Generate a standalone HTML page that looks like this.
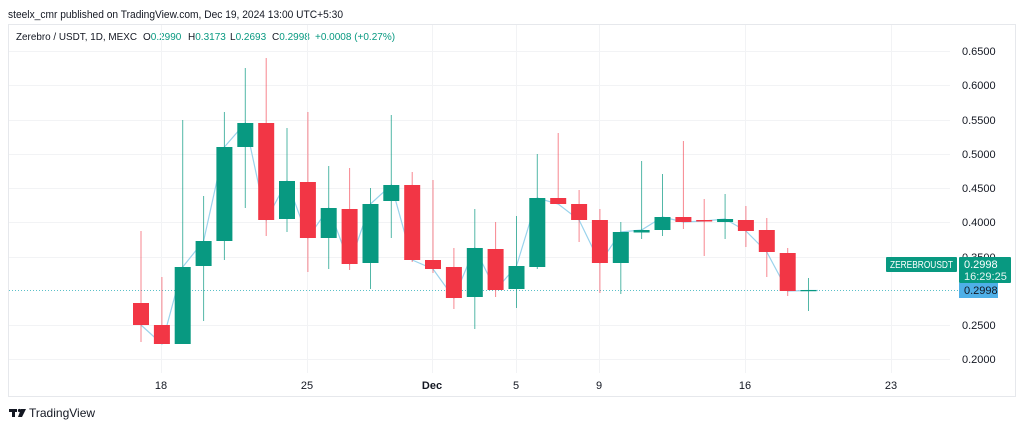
<!DOCTYPE html>
<html><head><meta charset="utf-8"><style>
html,body{margin:0;padding:0;background:#fff;}
body{width:1024px;height:428px;overflow:hidden;font-family:"Liberation Sans",sans-serif;}
</style></head><body>
<svg width="1024" height="428" viewBox="0 0 1024 428" xmlns="http://www.w3.org/2000/svg" font-family="Liberation Sans, sans-serif">
<rect x="0" y="0" width="1024" height="428" fill="#fff"/>
<text x="8" y="18" font-size="11" fill="#131722" textLength="335" lengthAdjust="spacingAndGlyphs">steelx_cmr published on TradingView.com, Dec 19, 2024 13:00 UTC+5:30</text>
<rect x="8.5" y="24.5" width="1007" height="372" fill="none" stroke="#e6e8ec"/>
<g font-size="10" fill="#131722">
<text x="16" y="40" textLength="121" lengthAdjust="spacingAndGlyphs">Zerebro / USDT, 1D, MEXC</text>
<text x="143" y="40">O<tspan fill="#089981">0.2990</tspan></text>
<text x="188" y="40">H<tspan fill="#089981">0.3173</tspan></text>
<text x="230" y="40">L<tspan fill="#089981">0.2693</tspan></text>
<text x="272" y="40">C<tspan fill="#089981">0.2998</tspan></text>
<text x="315" y="40" fill="#089981">+0.0008 (+0.27%)</text>
</g>
<g stroke="#f2f3f5" stroke-width="1">
<line x1="9" x2="950" y1="51.5" y2="51.5"/><line x1="9" x2="950" y1="85.5" y2="85.5"/><line x1="9" x2="950" y1="120.5" y2="120.5"/><line x1="9" x2="950" y1="154.5" y2="154.5"/><line x1="9" x2="950" y1="188.5" y2="188.5"/><line x1="9" x2="950" y1="222.5" y2="222.5"/><line x1="9" x2="950" y1="257.5" y2="257.5"/><line x1="9" x2="950" y1="325.5" y2="325.5"/><line x1="9" x2="950" y1="359.5" y2="359.5"/>
<line x1="161.5" x2="161.5" y1="25" y2="373"/><line x1="307.5" x2="307.5" y1="25" y2="373"/><line x1="432.5" x2="432.5" y1="25" y2="373"/><line x1="516.5" x2="516.5" y1="25" y2="373"/><line x1="599.5" x2="599.5" y1="25" y2="373"/><line x1="745.5" x2="745.5" y1="25" y2="373"/><line x1="891.5" x2="891.5" y1="25" y2="373"/>
</g>
<g font-size="11" fill="#131722">
<text x="962" y="55">0.6500</text><text x="962" y="89">0.6000</text><text x="962" y="124">0.5500</text><text x="962" y="158">0.5000</text><text x="962" y="192">0.4500</text><text x="962" y="226">0.4000</text><text x="962" y="261">0.3500</text><text x="962" y="329">0.2500</text><text x="962" y="363">0.2000</text>
</g>
<g font-size="11" fill="#131722" text-anchor="middle">
<text x="161" y="389">18</text><text x="307" y="389">25</text><text x="432" y="389" font-weight="bold">Dec</text><text x="516" y="389">5</text><text x="599" y="389">9</text><text x="745" y="389">16</text><text x="891" y="389">23</text>
</g>
<line x1="9" x2="958" y1="290.5" y2="290.5" stroke="#5bc0c8" stroke-dasharray="1,2" stroke-width="1"/>
<polyline fill="none" stroke="#9ad3ec" stroke-width="1.2" points="141,325 161.9,344 182.7,267 203.6,241 224.4,147 245.3,123 266.2,220 287,181 307.9,238 328.7,208 349.6,264 370.5,204 391.3,185 412.2,260 433,269 453.9,298 474.8,248 495.6,290 516.5,266 537.3,198 558.2,204 579.1,220 599.9,263 620.8,232 641.6,230 662.5,217 683.4,222 704.2,221 725.1,219 745.9,231 766.8,252 787.7,291 808.5,290.5 818,290.5"/>
<g fill="#f23645" stroke="#f23645">
<line x1="141" x2="141" y1="231" y2="342" stroke-opacity=".6"/><rect x="133" y="303" width="16" height="22" stroke="none"/>
<line x1="161.9" x2="161.9" y1="277" y2="344" stroke-opacity=".6"/><rect x="153.9" y="325" width="16" height="19" stroke="none"/>
<line x1="266.2" x2="266.2" y1="58" y2="236" stroke-opacity=".6"/><rect x="258.2" y="123" width="16" height="97" stroke="none"/>
<line x1="307.9" x2="307.9" y1="112" y2="272" stroke-opacity=".6"/><rect x="299.9" y="182" width="16" height="56" stroke="none"/>
<line x1="349.6" x2="349.6" y1="168" y2="270" stroke-opacity=".6"/><rect x="341.6" y="209" width="16" height="55" stroke="none"/>
<line x1="412.2" x2="412.2" y1="172" y2="262" stroke-opacity=".6"/><rect x="404.2" y="185" width="16" height="75" stroke="none"/>
<line x1="433" x2="433" y1="180" y2="273" stroke-opacity=".6"/><rect x="425" y="260" width="16" height="9" stroke="none"/>
<line x1="453.9" x2="453.9" y1="248" y2="309" stroke-opacity=".6"/><rect x="445.9" y="267" width="16" height="31" stroke="none"/>
<line x1="495.6" x2="495.6" y1="222" y2="297" stroke-opacity=".6"/><rect x="487.6" y="249" width="16" height="41" stroke="none"/>
<line x1="558.2" x2="558.2" y1="133" y2="204" stroke-opacity=".6"/><rect x="550.2" y="198" width="16" height="6" stroke="none"/>
<line x1="579.1" x2="579.1" y1="190" y2="242" stroke-opacity=".6"/><rect x="571.1" y="204" width="16" height="16" stroke="none"/>
<line x1="599.9" x2="599.9" y1="209" y2="293" stroke-opacity=".6"/><rect x="591.9" y="220" width="16" height="43" stroke="none"/>
<line x1="683.4" x2="683.4" y1="141" y2="229" stroke-opacity=".6"/><rect x="675.4" y="217" width="16" height="5" stroke="none"/>
<line x1="704.2" x2="704.2" y1="199" y2="256" stroke-opacity=".6"/><rect x="696.2" y="220" width="16" height="1.5" stroke="none"/>
<line x1="745.9" x2="745.9" y1="206" y2="247" stroke-opacity=".6"/><rect x="737.9" y="220" width="16" height="11" stroke="none"/>
<line x1="766.8" x2="766.8" y1="218" y2="277" stroke-opacity=".6"/><rect x="758.8" y="230" width="16" height="22" stroke="none"/>
<line x1="787.7" x2="787.7" y1="248" y2="296" stroke-opacity=".6"/><rect x="779.7" y="253" width="16" height="38" stroke="none"/>
</g>
<g fill="#089981" stroke="#089981">
<line x1="182.7" x2="182.7" y1="120" y2="344" stroke-opacity=".7"/><rect x="174.7" y="267" width="16" height="77" stroke="none"/>
<line x1="203.6" x2="203.6" y1="196" y2="321" stroke-opacity=".7"/><rect x="195.6" y="241" width="16" height="25" stroke="none"/>
<line x1="224.4" x2="224.4" y1="112" y2="260" stroke-opacity=".7"/><rect x="216.4" y="147" width="16" height="94" stroke="none"/>
<line x1="245.3" x2="245.3" y1="68" y2="208" stroke-opacity=".7"/><rect x="237.3" y="123" width="16" height="24" stroke="none"/>
<line x1="287" x2="287" y1="128" y2="232" stroke-opacity=".7"/><rect x="279" y="181" width="16" height="38" stroke="none"/>
<line x1="328.7" x2="328.7" y1="166" y2="269" stroke-opacity=".7"/><rect x="320.7" y="208" width="16" height="30" stroke="none"/>
<line x1="370.5" x2="370.5" y1="188" y2="289" stroke-opacity=".7"/><rect x="362.5" y="204" width="16" height="59" stroke="none"/>
<line x1="391.3" x2="391.3" y1="115" y2="238" stroke-opacity=".7"/><rect x="383.3" y="185" width="16" height="16" stroke="none"/>
<line x1="474.8" x2="474.8" y1="209" y2="329" stroke-opacity=".7"/><rect x="466.8" y="248" width="16" height="49" stroke="none"/>
<line x1="516.5" x2="516.5" y1="216" y2="308" stroke-opacity=".7"/><rect x="508.5" y="266" width="16" height="23" stroke="none"/>
<line x1="537.3" x2="537.3" y1="154" y2="269" stroke-opacity=".7"/><rect x="529.3" y="198" width="16" height="69" stroke="none"/>
<line x1="620.8" x2="620.8" y1="222" y2="294" stroke-opacity=".7"/><rect x="612.8" y="232" width="16" height="31" stroke="none"/>
<line x1="641.6" x2="641.6" y1="161" y2="239" stroke-opacity=".7"/><rect x="633.6" y="230" width="16" height="2.5" stroke="none"/>
<line x1="662.5" x2="662.5" y1="174" y2="236" stroke-opacity=".7"/><rect x="654.5" y="217" width="16" height="13" stroke="none"/>
<line x1="725.1" x2="725.1" y1="194" y2="239" stroke-opacity=".7"/><rect x="717.1" y="219" width="16" height="3" stroke="none"/>
<line x1="808.5" x2="808.5" y1="278" y2="311" stroke-opacity=".7"/><rect x="800.5" y="290" width="16" height="1.2" stroke="none"/>
</g>
<rect x="886" y="257" width="71" height="15" rx="1" fill="#089981"/>
<text x="890" y="268" font-size="10" fill="#fff" textLength="63" lengthAdjust="spacingAndGlyphs">ZEREBROUSDT</text>
<rect x="959" y="257" width="52" height="26" rx="1" fill="#089981"/>
<text x="964" y="268" font-size="11" fill="#fff">0.2998</text>
<text x="964" y="280" font-size="11" fill="#e6f5f2">16:29:25</text>
<rect x="959" y="283" width="39" height="15" fill="#4fb0e8"/>
<text x="964" y="294" font-size="11" fill="#131722">0.2998</text>
<g fill="#131722">
<rect x="9" y="409" width="8" height="3"/><rect x="12" y="409" width="3" height="8"/><circle cx="19.5" cy="410.5" r="1.6"/><polygon points="21,409 26,409 22,417 18,417"/>
</g>
<text x="29" y="417" font-size="12" fill="#131722">TradingView</text>
</svg>
</body></html>
